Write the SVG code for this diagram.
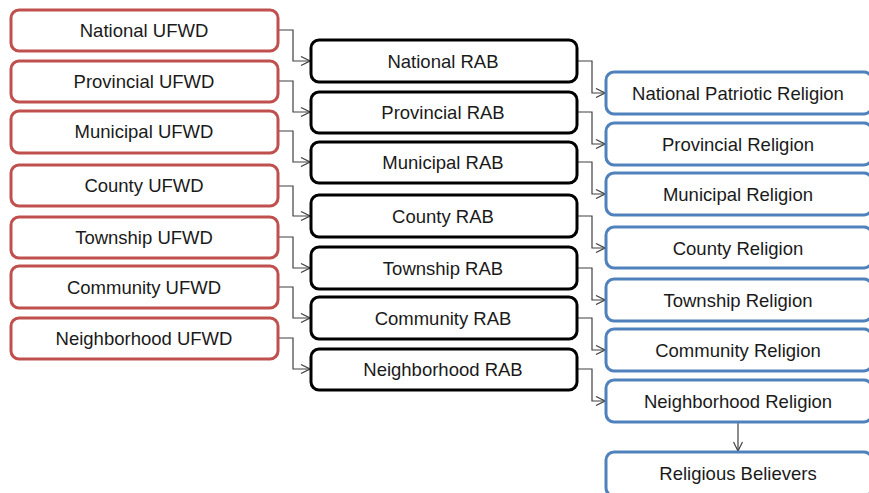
<svg xmlns="http://www.w3.org/2000/svg" width="869" height="493" viewBox="0 0 869 493">
<style>
.box{fill:#fff;stroke-width:3}
.ufwd{stroke:#C0504D}
.rab{stroke:#000}
.rel{stroke:#4F81BD}
text{font-family:"Liberation Sans",Arial,sans-serif;font-size:18.5px;fill:#1a1a1a;text-anchor:middle;dominant-baseline:central}
.conn path{fill:none;stroke:#404040;stroke-width:1.2;marker-end:url(#arr)}
</style>
<defs>
<marker id="arr" viewBox="0 0 10 10" refX="10" refY="5" markerWidth="10" markerHeight="10" markerUnits="userSpaceOnUse" orient="auto">
<path d="M1,0.5 L10,5 L1,9.5" fill="none" stroke="#404040" stroke-width="1.2"/>
</marker>
</defs>
<rect width="869" height="493" fill="#fff"/>
<g class="conn">
<path d="M278,30 H293 V61 H310"/>
<path d="M278,81 H293 V112 H310"/>
<path d="M278,131 H293 V162 H310"/>
<path d="M278,186 H293 V216 H310"/>
<path d="M278,237 H293 V268 H310"/>
<path d="M278,287 H293 V318 H310"/>
<path d="M278,338 H293 V369 H310"/>
<path d="M577,61 H592 V93 H605"/>
<path d="M577,112 H592 V144 H605"/>
<path d="M577,162 H592 V194 H605"/>
<path d="M577,216 H592 V248 H605"/>
<path d="M577,268 H592 V300 H605"/>
<path d="M577,318 H592 V350 H605"/>
<path d="M577,369 H592 V401 H605"/>
<path d="M738,422 V451"/>
</g>
<g id="national-ufwd"><rect class="box ufwd" x="11" y="10" width="267" height="41" rx="8"/><text x="144" y="30">National UFWD</text></g>
<g id="provincial-ufwd"><rect class="box ufwd" x="11" y="61" width="267" height="41" rx="8"/><text x="144" y="81">Provincial UFWD</text></g>
<g id="municipal-ufwd"><rect class="box ufwd" x="11" y="111" width="267" height="42" rx="8"/><text x="144" y="131">Municipal UFWD</text></g>
<g id="county-ufwd"><rect class="box ufwd" x="11" y="165" width="267" height="41" rx="8"/><text x="144" y="185">County UFWD</text></g>
<g id="township-ufwd"><rect class="box ufwd" x="11" y="217" width="267" height="41" rx="8"/><text x="144" y="237">Township UFWD</text></g>
<g id="community-ufwd"><rect class="box ufwd" x="11" y="266" width="267" height="42" rx="8"/><text x="144" y="287">Community UFWD</text></g>
<g id="neighborhood-ufwd"><rect class="box ufwd" x="11" y="318" width="267" height="41" rx="8"/><text x="144" y="338">Neighborhood UFWD</text></g>
<g id="national-rab"><rect class="box rab" x="311" y="40" width="266" height="42" rx="8"/><text x="443" y="61">National RAB</text></g>
<g id="provincial-rab"><rect class="box rab" x="311" y="92" width="266" height="41" rx="8"/><text x="443" y="112">Provincial RAB</text></g>
<g id="municipal-rab"><rect class="box rab" x="311" y="142" width="266" height="41" rx="8"/><text x="443" y="162">Municipal RAB</text></g>
<g id="county-rab"><rect class="box rab" x="311" y="195" width="266" height="42" rx="8"/><text x="443" y="216">County RAB</text></g>
<g id="township-rab"><rect class="box rab" x="311" y="247" width="266" height="42" rx="8"/><text x="443" y="268">Township RAB</text></g>
<g id="community-rab"><rect class="box rab" x="311" y="297" width="266" height="42" rx="8"/><text x="443" y="318">Community RAB</text></g>
<g id="neighborhood-rab"><rect class="box rab" x="311" y="349" width="266" height="41" rx="8"/><text x="443" y="369">Neighborhood RAB</text></g>
<g id="national-religion"><rect class="box rel" x="606" y="72" width="266" height="42" rx="8"/><text x="738" y="93">National Patriotic Religion</text></g>
<g id="provincial-religion"><rect class="box rel" x="606" y="123" width="266" height="42" rx="8"/><text x="738" y="144">Provincial Religion</text></g>
<g id="municipal-religion"><rect class="box rel" x="606" y="173" width="266" height="42" rx="8"/><text x="738" y="194">Municipal Religion</text></g>
<g id="county-religion"><rect class="box rel" x="606" y="227" width="266" height="41" rx="8"/><text x="738" y="248">County Religion</text></g>
<g id="township-religion"><rect class="box rel" x="606" y="279" width="266" height="42" rx="8"/><text x="738" y="300">Township Religion</text></g>
<g id="community-religion"><rect class="box rel" x="606" y="329" width="266" height="42" rx="8"/><text x="738" y="350">Community Religion</text></g>
<g id="neighborhood-religion"><rect class="box rel" x="606" y="380" width="266" height="42" rx="8"/><text x="738" y="401">Neighborhood Religion</text></g>
<g id="religious-believers"><rect class="box rel" x="606" y="452" width="266" height="44" rx="8"/><text x="738" y="473">Religious Believers</text></g>
</svg>
